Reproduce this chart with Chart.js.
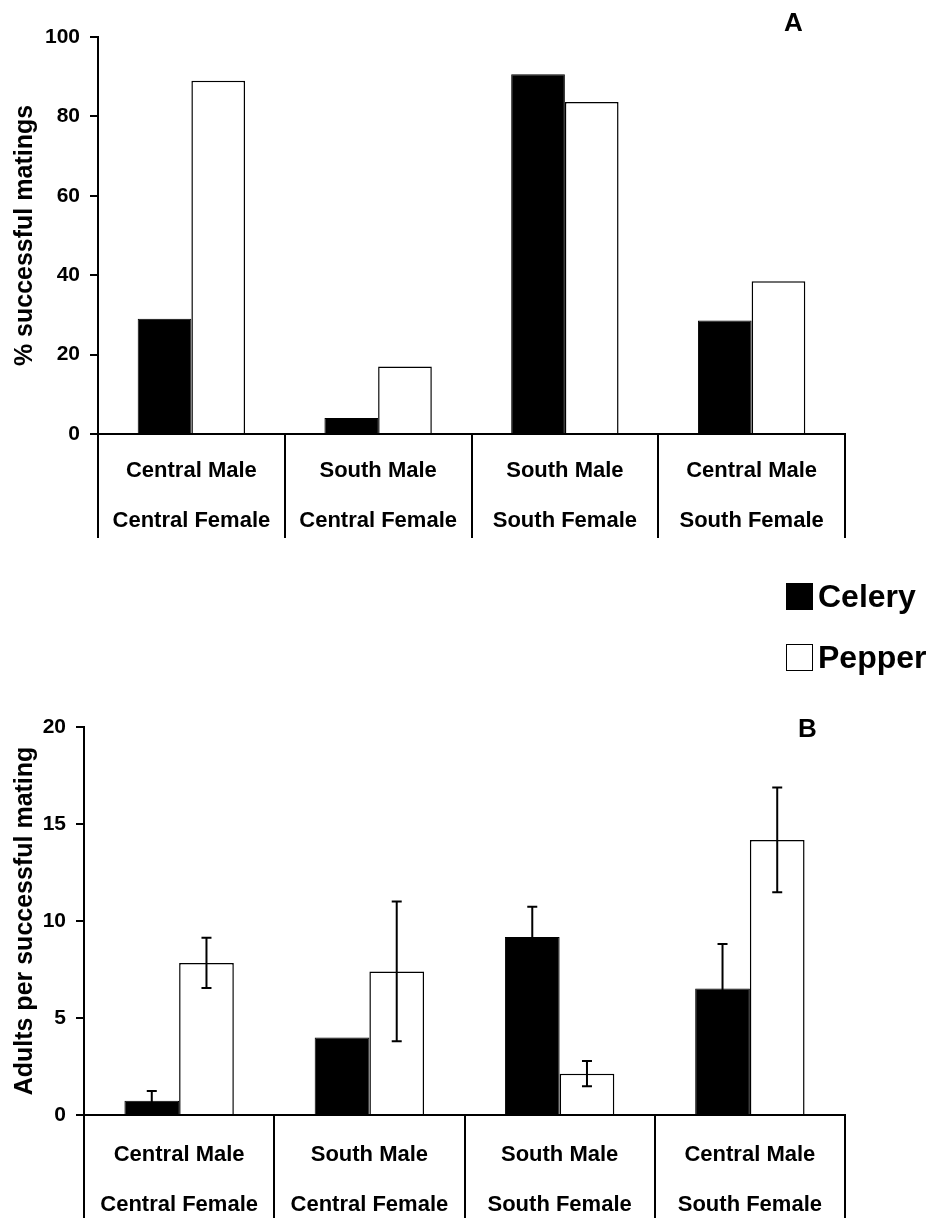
<!DOCTYPE html>
<html>
<head>
<meta charset="utf-8">
<script src="https://cdn.jsdelivr.net/npm/chart.js@4.4.1/dist/chart.umd.min.js"></script>
<style>
body{margin:0;background:#fff;font-family:"Liberation Sans",Arial,sans-serif;}
#page{position:relative;width:934px;height:1218px;overflow:hidden;}
.box{position:absolute;left:0;width:934px;}
#boxA{top:0;height:545px;}
#boxB{top:690px;height:528px;}
.letter{position:absolute;font-weight:bold;font-size:26px;line-height:1;color:#000;}
#legend{position:absolute;left:786px;top:580px;}
.item{display:flex;align-items:center;height:32px;margin-bottom:29px;font-weight:bold;font-size:32px;line-height:1;}
.sw{width:27px;height:27px;box-sizing:border-box;border:1.5px solid #000;margin-right:5px;}
</style>
</head>
<body>
<div id="page">
  <div class="box" id="boxA"><canvas id="chartA"></canvas></div>
  <div class="box" id="boxB"><canvas id="chartB"></canvas></div>
  <div class="letter" style="left:784px;top:9px;">A</div>
  <div class="letter" style="left:798px;top:715px;">B</div>
  <div id="legend"></div>
</div>
<script>
// crosses (male x female)
const categories = [
  ['Central Male', 'Central Female'],
  ['South Male', 'Central Female'],
  ['South Male', 'South Female'],
  ['Central Male', 'South Female']
];
const seriesNames = ['Celery', 'Pepper'];
const seriesColors = ['#000000', '#ffffff'];

// panel A: % successful matings
const matingsCelery = [29, 4, 90.6, 28.6];
const matingsPepper = [89, 17, 83.6, 38.5];
const ticksA = [0, 20, 40, 60, 80, 100];

// panel B: adults per successful mating, with error bars
const adultsCelery = [0.74, 4.0, 9.17, 6.52];
const adultsPepper = [7.84, 7.4, 2.13, 14.18];
const adultsCeleryErr = [0.5, 0, 1.56, 2.3];
const adultsPepperErr = [1.3, 3.6, 0.65, 2.7];
const ticksB = [0, 5, 10, 15, 20];

const FONT = '"Liberation Sans", Arial, sans-serif';

// legend
const legend = document.getElementById('legend');
seriesNames.forEach((name, i) => {
  const row = document.createElement('div');
  row.className = 'item';
  row.innerHTML = `<span class="sw" style="background:${seriesColors[i]}"></span>${name}`;
  legend.appendChild(row);
});

// error bars drawn from the y scale
const errorBars = {
  id: 'errorBars',
  afterDatasetsDraw(chart, args, opts) {
    const errs = opts.errors;
    if (!errs) return;
    const ctx = chart.ctx, y = chart.scales.y;
    ctx.save();
    ctx.strokeStyle = '#000';
    ctx.lineWidth = 2;
    chart.data.datasets.forEach((ds, i) => {
      const e = errs[i];
      if (!e) return;
      chart.getDatasetMeta(i).data.forEach((bar, j) => {
        if (!e[j]) return;
        const top = y.getPixelForValue(ds.data[j] + e[j]);
        const bot = y.getPixelForValue(ds.data[j] - e[j]);
        ctx.beginPath();
        ctx.moveTo(bar.x, top); ctx.lineTo(bar.x, bot);
        ctx.moveTo(bar.x - 5, top); ctx.lineTo(bar.x + 5, top);
        ctx.moveTo(bar.x - 5, bot); ctx.lineTo(bar.x + 5, bot);
        ctx.stroke();
      });
    });
    ctx.restore();
  }
};

function makeChart(id, celery, pepper, yTicks, yTitle, c) {
  return new Chart(document.getElementById(id), {
    type: 'bar',
    data: {
      labels: categories,
      datasets: [
        {label: seriesNames[0], data: celery, backgroundColor: seriesColors[0], borderColor: '#000', borderWidth: 1},
        {label: seriesNames[1], data: pepper, backgroundColor: seriesColors[1], borderColor: '#000', borderWidth: 1.5}
      ]
    },
    options: {
      responsive: true,
      maintainAspectRatio: false,
      animation: false,
      layout: {padding: {top: 37, right: 89, left: 0, bottom: 0}},
      datasets: {bar: {categoryPercentage: 0.575, barPercentage: 1}},
      plugins: {
        legend: {display: false},
        tooltip: {enabled: false},
        errorBars: {errors: c.errors}
      },
      scales: {
        x: {
          grid: {offset: true, drawOnChartArea: false, drawTicks: true, tickLength: c.tickLen, color: '#000', lineWidth: 2},
          border: {display: true, color: '#000', width: 2},
          ticks: {color: '#000', padding: c.labelPad, maxRotation: 0, autoSkip: false,
                  font: {family: FONT, size: 22, weight: 'bold', lineHeight: 2.27}},
          afterFit: s => { s.height = c.xHeight; }
        },
        y: {
          min: yTicks[0],
          max: yTicks[yTicks.length - 1],
          afterBuildTicks: s => { s.ticks = yTicks.map(v => ({value: v})); },
          grid: {drawOnChartArea: false, drawTicks: true, tickLength: 8, color: '#000', lineWidth: 2},
          border: {display: true, color: '#000', width: 2},
          ticks: {color: '#000', padding: 10, font: {family: FONT, size: 21, weight: 'bold'}},
          title: {display: true, text: yTitle, color: '#000', padding: {top: 10, bottom: 0},
                  font: {family: FONT, size: 25, weight: 'bold'}},
          afterFit: s => { s.width = c.yWidth; }
        }
      }
    },
    plugins: [errorBars]
  });
}

makeChart('chartA', matingsCelery, matingsPepper, ticksA, '% successful matings',
  {yWidth: 98, xHeight: 111, tickLen: 104, labelPad: -92, errors: null});

makeChart('chartB', adultsCelery, adultsPepper, ticksB, 'Adults per successful mating',
  {yWidth: 84, xHeight: 103, tickLen: 105, labelPad: -90, errors: [adultsCeleryErr, adultsPepperErr]});
</script>
</body>
</html>
